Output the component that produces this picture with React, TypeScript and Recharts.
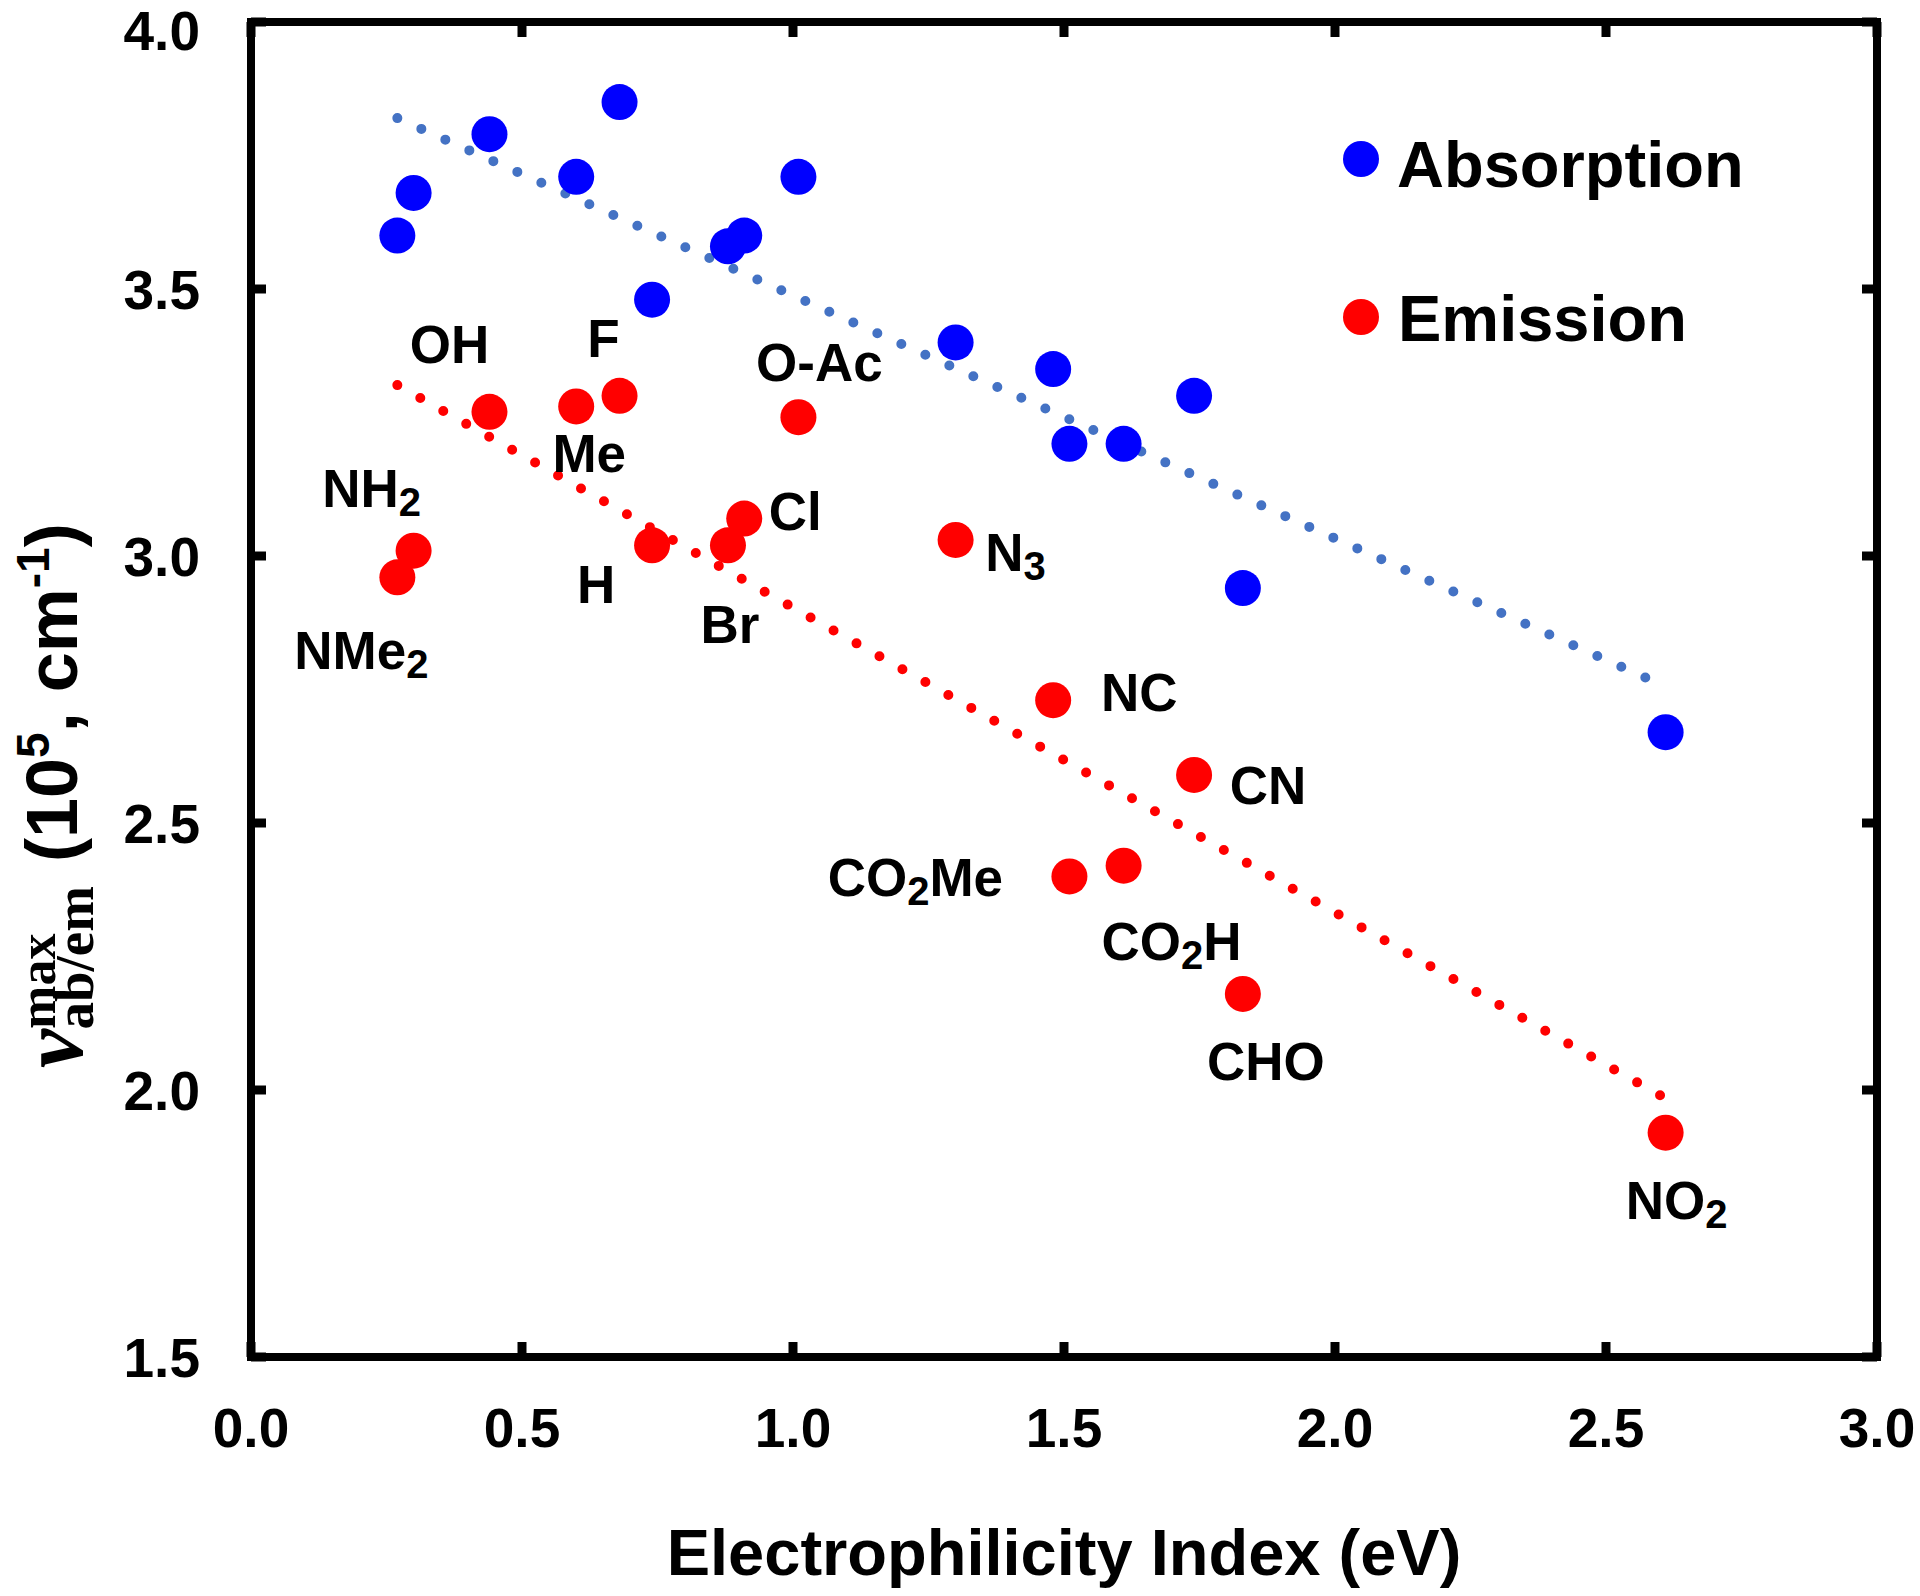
import React from 'react';
import { ScatterChart, Scatter, XAxis, YAxis, Legend } from 'recharts';

// substituents, in order of electrophilicity
const substituents = ['NMe2', 'NH2', 'OH', 'Me', 'F', 'H', 'Br', 'Cl', 'O-Ac', 'N3', 'NC', 'CO2Me', 'CO2H', 'CN', 'CHO', 'NO2'];
const electrophilicity = [0.27, 0.30, 0.44, 0.60, 0.68, 0.74, 0.88, 0.91, 1.01, 1.30, 1.48, 1.51, 1.61, 1.74, 1.83, 2.61];
const absorption = [3.60, 3.68, 3.79, 3.71, 3.85, 3.48, 3.58, 3.60, 3.71, 3.40, 3.35, 3.21, 3.21, 3.30, 2.94, 2.67];
const emission = [2.96, 3.01, 3.27, 3.28, 3.30, 3.02, 3.02, 3.07, 3.26, 3.03, 2.73, 2.40, 2.42, 2.59, 2.18, 1.92];

// linear fits (end points)
const absorptionFit = [{ x: 0.27, y: 3.82 }, { x: 2.6, y: 2.76 }];
const emissionFit = [{ x: 0.27, y: 3.32 }, { x: 2.6, y: 1.99 }];

const xTicks = [0, 0.5, 1, 1.5, 2, 2.5, 3];
const yTicks = [1.5, 2, 2.5, 3, 3.5, 4];

const absorptionData = substituents.map((name, i) => ({ name, x: electrophilicity[i], y: absorption[i] }));
const emissionData = substituents.map((name, i) => ({ name, x: electrophilicity[i], y: emission[i] }));

// where each substituent label sits relative to its emission point (text centre, baseline)
const labelOffsets: Record<string, [number, number]> = {
  NMe2: [-36, 92],
  NH2: [-42, -44],
  OH: [-40, -49],
  Me: [13, 66],
  F: [-16, -39],
  H: [-56, 58],
  Br: [2, 98],
  Cl: [51, 11],
  'O-Ac': [21, -36],
  N3: [60, 31],
  NC: [86, 11],
  CN: [74, 29],
  CO2Me: [-154, 20],
  CO2H: [48, 94],
  CHO: [23, 86],
  NO2: [11, 86],
};

const SANS = '"Liberation Sans", Arial, sans-serif';
const SERIF = '"Liberation Serif", "Times New Roman", serif';
const BLUE = '#0000FF';
const RED = '#FF0000';

const Formula = ({ x, y, text }: { x: number; y: number; text: string }) => {
  const parts = text.split(/(\d)/).filter(Boolean);
  let sub = false;
  return (
    <text x={x} y={y} textAnchor="middle" fontFamily={SANS} fontWeight="bold" fontSize={53} fill="#000">
      {parts.map((p, i) => {
        const isSub = /\d/.test(p);
        const dy = isSub && !sub ? 9 : !isSub && sub ? -9 : 0;
        sub = isSub;
        return (
          <tspan key={i} dy={dy} fontSize={isSub ? 40 : 53}>
            {p}
          </tspan>
        );
      })}
    </text>
  );
};

const AbsDot = (props: any) => <circle cx={props.cx} cy={props.cy} r={18} fill={BLUE} />;

const EmDot = (props: any) => {
  const off = labelOffsets[props.payload.name] || [0, 0];
  return (
    <g>
      <circle cx={props.cx} cy={props.cy} r={18} fill={RED} />
      <Formula x={props.cx + off[0]} y={props.cy + off[1]} text={props.payload.name} />
    </g>
  );
};

const NoDot = () => <g />;

const BottomTick = (props: any) => (
  <g>
    <line x1={props.x} x2={props.x} y1={props.y} y2={props.y - 15} stroke="#000" strokeWidth={9} />
    <text x={props.x} y={props.y + 90} textAnchor="middle" fontFamily={SANS} fontWeight="bold" fontSize={55} fill="#000">
      {props.payload.value.toFixed(1)}
    </text>
  </g>
);

const TopTick = (props: any) => (
  <line x1={props.x} x2={props.x} y1={props.y} y2={props.y + 15} stroke="#000" strokeWidth={9} />
);

const LeftTick = (props: any) => (
  <g>
    <line x1={props.x} x2={props.x + 15} y1={props.y} y2={props.y} stroke="#000" strokeWidth={9} />
    <text x={props.x - 51} y={Math.max(props.y + 20, 50)} textAnchor="end" fontFamily={SANS} fontWeight="bold" fontSize={55} fill="#000">
      {props.payload.value.toFixed(1)}
    </text>
  </g>
);

const RightTick = (props: any) => (
  <line x1={props.x} x2={props.x - 15} y1={props.y} y2={props.y} stroke="#000" strokeWidth={9} />
);

const XTitle = (props: any) => {
  const vb = props.viewBox;
  return (
    <text x={vb.x + vb.width / 2} y={1575} textAnchor="middle" fontFamily={SANS} fontWeight="bold" fontSize={65} fill="#000">
      Electrophilicity Index (eV)
    </text>
  );
};

// rotated title, written from its start (bottom) upwards
const YTitle = () => {
  const bx = 77;
  const by = 1068;
  return (
    <text transform={`rotate(-90, ${bx}, ${by})`} x={bx} y={by} textAnchor="start" fontFamily={SANS} fontWeight="bold" fontSize={72} fill="#000">
      <tspan fontFamily={SERIF} fontStyle="italic" fontSize={88} dy={5}>ν</tspan>
      <tspan fontFamily={SERIF} fontSize={52} dy={-27}>max</tspan>
      <tspan fontFamily={SERIF} fontSize={55} dx={-96} dy={38}>ab/em</tspan>
      <tspan dx={24} dy={-16}>(10</tspan>
      <tspan fontSize={46} dy={-28}>5</tspan>
      <tspan dy={28}>, cm</tspan>
      <tspan fontSize={46} dy={-28}>-1</tspan>
      <tspan dy={28}>)</tspan>
    </text>
  );
};

const LegendBox = () => (
  <svg width={440} height={250}>
    <circle cx={31} cy={39} r={18} fill={BLUE} />
    <text x={67} y={67} fontFamily={SANS} fontWeight="bold" fontSize={65} fill="#000">Absorption</text>
    <circle cx={31} cy={197} r={18} fill={RED} />
    <text x={68} y={221} fontFamily={SANS} fontWeight="bold" fontSize={65} fill="#000">Emission</text>
  </svg>
);

const axisLine = { stroke: '#000', strokeWidth: 8, strokeLinecap: 'square' as const };

export default function App() {
  return (
    <div style={{ position: 'absolute', left: 0, top: 0, background: '#fff' }}>
      <ScatterChart width={1920} height={1596} margin={{ top: 12, right: 23, bottom: 39, left: 51 }}>
        <XAxis
          xAxisId="b"
          type="number"
          dataKey="x"
          domain={[0, 3]}
          ticks={xTicks}
          orientation="bottom"
          height={200}
          axisLine={axisLine}
          tickLine={false}
          tickSize={0}
          tickMargin={0}
          tick={BottomTick}
          interval={0}
          label={{ content: XTitle }}
        />
        <XAxis
          xAxisId="t"
          type="number"
          dataKey="x"
          domain={[0, 3]}
          ticks={xTicks}
          orientation="top"
          height={10}
          axisLine={axisLine}
          tickLine={false}
          tickSize={0}
          tickMargin={0}
          tick={TopTick}
          interval={0}
        />
        <YAxis
          yAxisId="l"
          type="number"
          dataKey="y"
          domain={[1.5, 4]}
          ticks={yTicks}
          width={200}
          axisLine={axisLine}
          tickLine={false}
          tickSize={0}
          tickMargin={0}
          tick={LeftTick}
          interval={0}
          label={{ content: YTitle }}
        />
        <YAxis
          yAxisId="r"
          type="number"
          dataKey="y"
          domain={[1.5, 4]}
          ticks={yTicks}
          orientation="right"
          width={20}
          axisLine={axisLine}
          tickLine={false}
          tickSize={0}
          tickMargin={0}
          tick={RightTick}
          interval={0}
        />
        <Legend
          layout="vertical"
          align="center"
          verticalAlign="middle"
          wrapperStyle={{ left: 1330, top: 120, width: 440, height: 250 }}
          content={LegendBox}
        />
        <Scatter
          name="Absorption fit"
          xAxisId="t"
          yAxisId="r"
          data={absorptionFit}
          shape={NoDot}
          line={{ stroke: '#4472C4', strokeWidth: 10, strokeDasharray: '0 26.3', strokeLinecap: 'round' }}
          legendType="none"
          isAnimationActive={false}
        />
        <Scatter
          name="Emission fit"
          xAxisId="t"
          yAxisId="r"
          data={emissionFit}
          shape={NoDot}
          line={{ stroke: RED, strokeWidth: 10, strokeDasharray: '0 26.34', strokeLinecap: 'round' }}
          legendType="none"
          isAnimationActive={false}
        />
        <Scatter name="Absorption" xAxisId="b" yAxisId="l" data={absorptionData} fill={BLUE} shape={AbsDot} isAnimationActive={false} />
        <Scatter name="Emission" xAxisId="b" yAxisId="l" data={emissionData} fill={RED} shape={EmDot} isAnimationActive={false} />
      </ScatterChart>
    </div>
  );
}
